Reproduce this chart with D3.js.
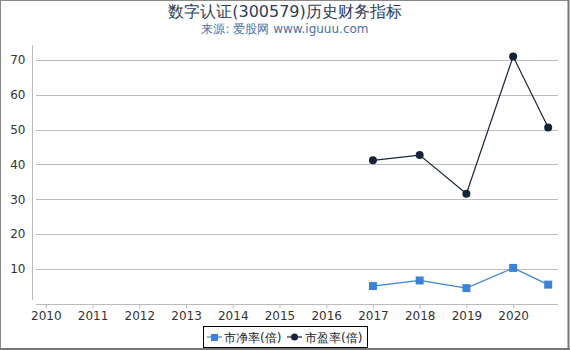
<!DOCTYPE html>
<html><head><meta charset="utf-8">
<script src="https://cdn.jsdelivr.net/npm/d3@7"></script>
<style>
body{margin:0;background:#fff;}
svg{display:block;font-family:"DejaVu Sans",sans-serif;}
</style></head><body>
<svg id="c" width="570" height="350"></svg>
<script>
const years = [2017, 2018, 2019, 2020, 2020.75];
const pb = [5.1, 6.7, 4.5, 10.3, 5.5];
const pe = [41.2, 42.7, 31.6, 71.0, 50.6];
const xTicks = [2010,2011,2012,2013,2014,2015,2016,2017,2018,2019,2020];
const yTicks = [10,20,30,40,50,60,70];
const seriesNames = ["市净率(倍)", "市盈率(倍)"];
const colors = ["#3b82d8", "#16243a"];

const svg = d3.select("#c");
svg.append("rect").attr("x",0.5).attr("y",0.5).attr("width",568).attr("height",348)
  .attr("fill","#fff").attr("stroke","#888").attr("stroke-width",1);
svg.append("line").attr("x1",568.5).attr("x2",568.5).attr("y1",0).attr("y2",350).attr("stroke","#777").attr("stroke-width",2);
svg.append("line").attr("x1",0).attr("x2",570).attr("y1",349).attr("y2",349).attr("stroke","#777").attr("stroke-width",2);

const x = d3.scaleLinear().domain([2009.79, 2020.96]).range([36, 558]);
const y = d3.scaleLinear().domain([0, 74.3]).range([303.8, 45]);

// title
svg.append("text").attr("x",285).attr("y",17).attr("text-anchor","middle")
  .attr("font-size",16).attr("fill","#2c3e5a").text("数字认证(300579)历史财务指标");
svg.append("text").attr("x",285).attr("y",33).attr("text-anchor","middle")
  .attr("font-size",12).attr("fill","#4a70a8").text("来源: 爱股网 www.iguuu.com");

// grid
svg.append("g").selectAll("line").data(yTicks).join("line")
  .attr("x1",36).attr("x2",558).attr("y1",d=>Math.round(y(d))+0.5).attr("y2",d=>Math.round(y(d))+0.5)
  .attr("stroke","#bdbdbd").attr("stroke-width",1);

// y axis
const ya = svg.append("g").attr("transform","translate(32.5,0)")
  .call(d3.axisLeft(y).tickValues(yTicks).tickSize(0).tickPadding(7));
ya.select(".domain").remove();
ya.append("line").attr("x1",0).attr("x2",0).attr("y1",45).attr("y2",300).attr("stroke","#bbb");
ya.selectAll("text").attr("font-size",12).attr("fill","#333").attr("font-family","DejaVu Sans");

// x axis
const xa = svg.append("g").attr("transform","translate(0,304.5)")
  .call(d3.axisBottom(x).tickValues(xTicks).tickFormat(d3.format("d")).tickSize(4).tickPadding(3));
xa.select(".domain").attr("stroke","#bbb").attr("d","M36,0H558");
xa.selectAll(".tick line").attr("stroke","#bbb");
xa.selectAll("text").attr("font-size",12).attr("fill","#333").attr("font-family","DejaVu Sans");

const line = d3.line().x(d=>x(d[0])).y(d=>y(d[1]));
const pbData = years.map((v,i)=>[v,pb[i]]);
const peData = years.map((v,i)=>[v,pe[i]]);

svg.append("path").datum(pbData).attr("d",line).attr("fill","none").attr("stroke",colors[0]).attr("stroke-width",1.2);
svg.append("g").selectAll("rect").data(pbData).join("rect")
  .attr("x",d=>x(d[0])-4).attr("y",d=>y(d[1])-4).attr("width",8).attr("height",8).attr("fill",colors[0]);

svg.append("path").datum(peData).attr("d",line).attr("fill","none").attr("stroke",colors[1]).attr("stroke-width",1.2);
svg.append("g").selectAll("circle").data(peData).join("circle")
  .attr("cx",d=>x(d[0])).attr("cy",d=>y(d[1])).attr("r",4).attr("fill",colors[1]);

// legend
const lg = svg.append("g");
lg.append("rect").attr("x",203.5).attr("y",326.5).attr("width",164).attr("height",21)
  .attr("fill","#fff").attr("stroke","#000").attr("stroke-width",1);
lg.append("line").attr("x1",207).attr("x2",222).attr("y1",337).attr("y2",337).attr("stroke",colors[0]).attr("stroke-width",1.2);
lg.append("rect").attr("x",211).attr("y",334).attr("width",7).attr("height",7).attr("fill",colors[0]);
lg.append("text").attr("x",224).attr("y",342).attr("font-size",12).attr("fill","#222").text(seriesNames[0]);
lg.append("line").attr("x1",287).attr("x2",302).attr("y1",337).attr("y2",337).attr("stroke",colors[1]).attr("stroke-width",1.2);
lg.append("circle").attr("cx",294.5).attr("cy",337).attr("r",3.5).attr("fill",colors[1]);
lg.append("text").attr("x",305).attr("y",342).attr("font-size",12).attr("fill","#222").text(seriesNames[1]);
</script>
</body></html>
